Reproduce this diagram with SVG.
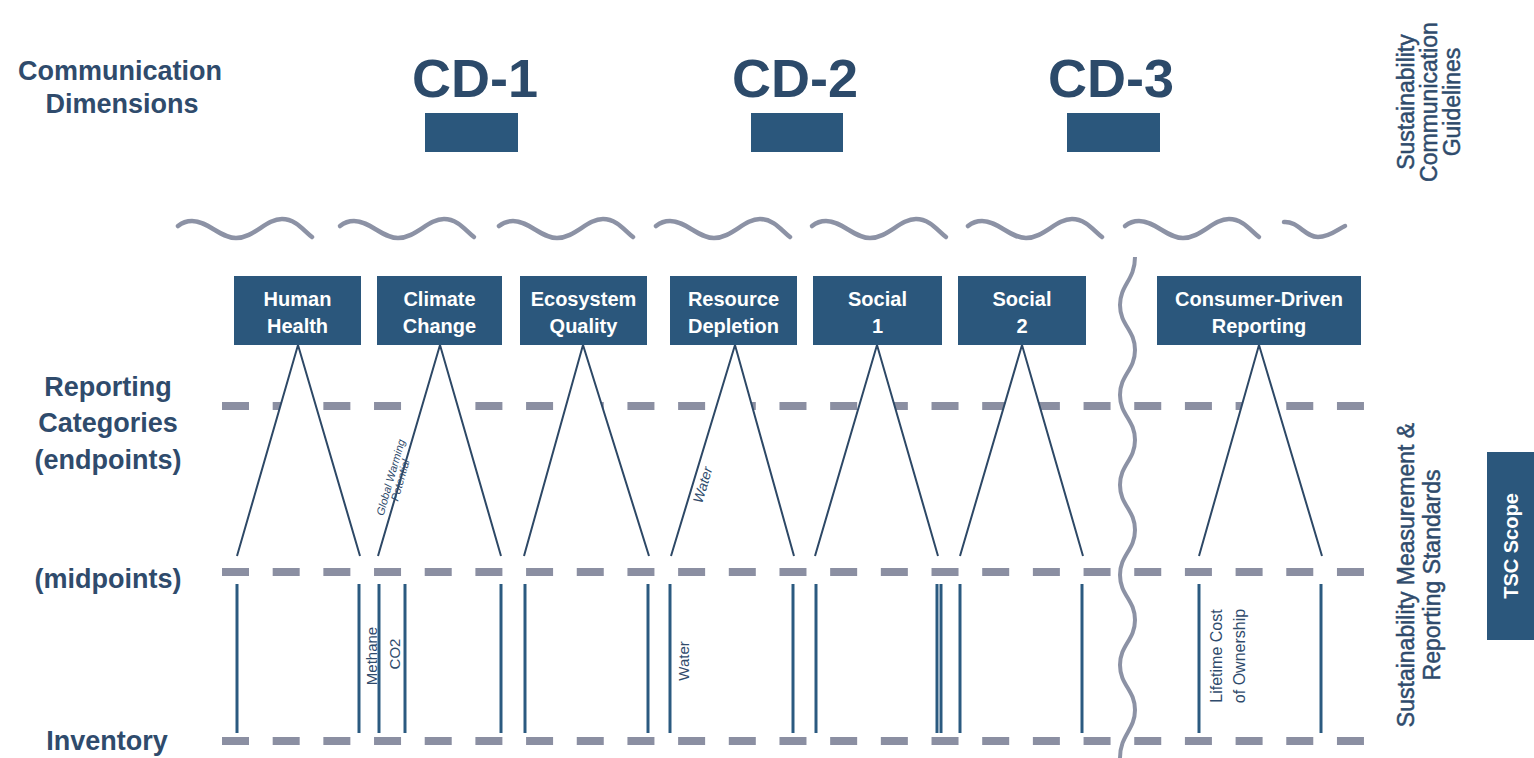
<svg xmlns="http://www.w3.org/2000/svg" xmlns:xlink="http://www.w3.org/1999/xlink" width="1534" height="758" viewBox="0 0 1534 758">
<style>
.lbl{font-family:"Liberation Sans",Arial,sans-serif;fill:#2f4b6c;font-weight:bold;}
.side{font-family:"Liberation Sans",Arial,sans-serif;fill:#2f4b6c;font-size:23px;stroke:#2f4b6c;stroke-width:0.5;}
.cd{font-family:"Liberation Sans",Arial,sans-serif;fill:#2c4a6a;font-weight:bold;font-size:54px;}
.box{fill:#2b577c;}
.bt{font-family:"Liberation Sans",Arial,sans-serif;fill:#ffffff;font-weight:bold;font-size:20px;text-anchor:middle;}
.dash{stroke:#8b8fa2;stroke-width:8;stroke-dasharray:27 23.68;fill:none;}
.wave{stroke:#8c92a5;stroke-width:4.5;fill:none;stroke-linecap:round;}
.tri{stroke:#2d4866;stroke-width:2;fill:#ffffff;}
.vl{stroke:#2b5a80;stroke-width:3;}
.small{font-family:"Liberation Sans",Arial,sans-serif;fill:#2f4b6c;}
</style>
<defs>
<path id="w" d="M0,7 C5,3 9,2 14,2 C30,2 42,19 58,19 C76,19 88,0 104,0 C118,0 126,12 134,18"/>
</defs>
<rect width="1534" height="758" fill="#ffffff"/>

<g id="left-labels">
<text class="lbl" font-size="27" text-anchor="middle"><tspan x="120" y="80">Communication</tspan><tspan x="122" y="113">Dimensions</tspan></text>
<text class="lbl" font-size="27" text-anchor="middle"><tspan x="108" y="396">Reporting</tspan><tspan x="108" y="432">Categories</tspan><tspan x="108" y="469">(endpoints)</tspan></text>
<text class="lbl" font-size="27" text-anchor="middle" x="108" y="588">(midpoints)</text>
<text class="lbl" font-size="27" text-anchor="middle" x="107" y="750">Inventory</text>
</g>

<g id="cd1"><text class="cd" x="475" y="97" text-anchor="middle">CD-1</text><rect class="box" x="425" y="113" width="93" height="39"/></g>
<g id="cd2"><text class="cd" x="795" y="97" text-anchor="middle">CD-2</text><rect class="box" x="751" y="113" width="92" height="39"/></g>
<g id="cd3"><text class="cd" x="1111" y="97" text-anchor="middle">CD-3</text><rect class="box" x="1067" y="113" width="93" height="39"/></g>

<g id="waves">
<use xlink:href="#w" href="#w" class="wave" transform="translate(178,219)"/>
<use xlink:href="#w" href="#w" class="wave" transform="translate(340,219)"/>
<use xlink:href="#w" href="#w" class="wave" transform="translate(499,219)"/>
<use xlink:href="#w" href="#w" class="wave" transform="translate(656,219)"/>
<use xlink:href="#w" href="#w" class="wave" transform="translate(812,219)"/>
<use xlink:href="#w" href="#w" class="wave" transform="translate(968,219)"/>
<use xlink:href="#w" href="#w" class="wave" transform="translate(1125,219)"/>
<path class="wave" d="M1284,222 C1298,221 1305,237 1318,237 C1330,237 1338,229 1345,226"/>
</g>

<g id="levels">
<line class="dash" x1="222" y1="406" x2="1364" y2="406"/>
<line class="dash" x1="222" y1="572" x2="1364" y2="572"/>
<line class="dash" x1="222" y1="741" x2="1364" y2="741"/>
</g>

<g id="connectors">
<path class="tri" d="M237,556 L298,345 L360,556"/>
<path class="tri" d="M378,556 L440,345 L501,556"/>
<path class="tri" d="M524,556 L583,345 L649,556"/>
<path class="tri" d="M671,556 L735,345 L794,556"/>
<path class="tri" d="M815,556 L877,345 L938,556"/>
<path class="tri" d="M960,556 L1022,345 L1083,556"/>
<path class="tri" d="M1199,556 L1259,345 L1322,556"/>
<line class="vl" x1="237" y1="584" x2="237" y2="733"/>
<line class="vl" x1="359" y1="584" x2="359" y2="733"/>
<line class="vl" x1="379" y1="584" x2="379" y2="733"/>
<line class="vl" x1="405" y1="584" x2="405" y2="733"/>
<line class="vl" x1="501" y1="584" x2="501" y2="733"/>
<line class="vl" x1="525" y1="584" x2="525" y2="733"/>
<line class="vl" x1="648" y1="584" x2="648" y2="733"/>
<line class="vl" x1="670" y1="584" x2="670" y2="733"/>
<line class="vl" x1="793" y1="584" x2="793" y2="733"/>
<line class="vl" x1="816" y1="584" x2="816" y2="733"/>
<line class="vl" x1="937" y1="584" x2="937" y2="733"/>
<line class="vl" x1="941" y1="584" x2="941" y2="733"/>
<line class="vl" x1="960" y1="584" x2="960" y2="733"/>
<line class="vl" x1="1082" y1="584" x2="1082" y2="733"/>
<line class="vl" x1="1199" y1="584" x2="1199" y2="733"/>
<line class="vl" x1="1321" y1="584" x2="1321" y2="733"/>
<path d="M1135,257 C1135,280 1120,285 1120,305 S1135,330 1135,350 S1120,375 1120,395 S1135,420 1135,440 S1120,465 1120,485 S1135,510 1135,530 S1120,555 1120,575 S1135,600 1135,620 S1120,645 1120,665 S1135,690 1135,710 S1120,735 1120,758" fill="none" stroke="#8c92a5" stroke-width="4"/>
</g>

<g id="connector-labels">
<text class="small" font-size="11" font-style="italic" text-anchor="middle" transform="translate(400,480) rotate(-74)"><tspan x="0" y="-6">Global Warming</tspan><tspan x="0" y="4">Potential</tspan></text>
<text class="small" font-size="14" font-style="italic" text-anchor="middle" transform="translate(693,482) rotate(-73.3)" x="0" y="15">Water</text>
<text class="small" font-size="15" text-anchor="middle" transform="translate(377,656) rotate(-90)" x="0" y="0">Methane</text>
<text class="small" font-size="15" text-anchor="middle" transform="translate(400,654) rotate(-90)" x="0" y="0">CO2</text>
<text class="small" font-size="15" text-anchor="middle" transform="translate(689,661) rotate(-90)" x="0" y="0">Water</text>
<text class="small" font-size="16" text-anchor="middle" transform="translate(1222,656) rotate(-90)"><tspan x="0" y="0">Lifetime Cost</tspan><tspan x="0" y="23">of Ownership</tspan></text>
</g>

<g id="n-human-health"><rect class="box" x="234" y="276" width="127" height="69"/><text class="bt"><tspan x="297.5" y="306">Human</tspan><tspan x="297.5" y="333">Health</tspan></text></g>
<g id="n-climate-change"><rect class="box" x="377" y="276" width="125" height="69"/><text class="bt"><tspan x="439.5" y="306">Climate</tspan><tspan x="439.5" y="333">Change</tspan></text></g>
<g id="n-ecosystem-quality"><rect class="box" x="520" y="276" width="127" height="69"/><text class="bt"><tspan x="583.5" y="306">Ecosystem</tspan><tspan x="583.5" y="333">Quality</tspan></text></g>
<g id="n-resource-depletion"><rect class="box" x="670" y="276" width="127" height="69"/><text class="bt"><tspan x="733.5" y="306">Resource</tspan><tspan x="733.5" y="333">Depletion</tspan></text></g>
<g id="n-social-1"><rect class="box" x="813" y="276" width="129" height="69"/><text class="bt"><tspan x="877.5" y="306">Social</tspan><tspan x="877.5" y="333">1</tspan></text></g>
<g id="n-social-2"><rect class="box" x="958" y="276" width="128" height="69"/><text class="bt"><tspan x="1022" y="306">Social</tspan><tspan x="1022" y="333">2</tspan></text></g>
<g id="n-consumer-driven"><rect class="box" x="1157" y="276" width="204" height="69"/><text class="bt"><tspan x="1259" y="306">Consumer-Driven</tspan><tspan x="1259" y="333">Reporting</tspan></text></g>

<g id="right-labels">
<text class="side" font-size="25" text-anchor="middle" transform="translate(1437,102) rotate(-90)"><tspan x="0" y="-23">Sustainability</tspan><tspan x="0" y="0">Communication</tspan><tspan x="0" y="23">Guidelines</tspan></text>
<text class="side" text-anchor="middle" transform="translate(1414,575) rotate(-90)"><tspan x="0" y="0">Sustainability Measurement &amp;</tspan><tspan x="0" y="26">Reporting Standards</tspan></text>
</g>
<g id="tsc-scope"><rect class="box" x="1487" y="452" width="47" height="188"/><text class="bt" font-size="18" transform="translate(1518,546) rotate(-90)" x="0" y="0">TSC Scope</text></g>
</svg>
